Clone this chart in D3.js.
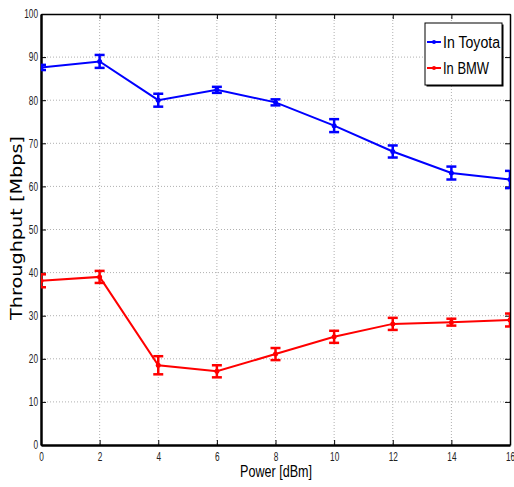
<!DOCTYPE html>
<html>
<head>
<meta charset="utf-8">
<script src="https://cdn.jsdelivr.net/npm/d3@7"></script>
<style>
body { margin: 0; background: #fff; }
.tick text { font-family: "Liberation Sans", Arial, sans-serif; font-size: 12px; fill: #222; }
</style>
</head>
<body>
<div id="chart"></div>
<script>
// data
const power = [0, 2, 4, 6, 8, 10, 12, 14, 16];
const toyota = [87.6, 89.0, 80.0, 82.4, 79.5, 74.1, 68.1, 63.1, 61.6];
const toyotaErr = [0.6, 1.5, 1.5, 0.7, 0.7, 1.5, 1.4, 1.5, 2.0];
const bmw = [38.1, 39.0, 18.5, 17.1, 21.1, 25.1, 28.1, 28.5, 29.0];
const bmwErr = [1.5, 1.4, 2.1, 1.4, 1.4, 1.4, 1.4, 0.8, 1.5];
const xTicks = [0, 2, 4, 6, 8, 10, 12, 14, 16];
const yTicks = [0, 10, 20, 30, 40, 50, 60, 70, 80, 90, 100];
const seriesNames = ["In Toyota", "In BMW"];
const seriesColors = ["#0000ff", "#ff0000"];

// svg container size
const width = 514;
const height = 487;

const margin = { top: 14, right: 4, bottom: 42, left: 41 };
const chartWidth = width - margin.left - margin.right;
const chartHeight = height - margin.top - margin.bottom;

const narrow = "'Liberation Sans', Arial, sans-serif";

const svg = d3.select("#chart").append("svg")
    .attr("width", width)
    .attr("height", height);

const chartGroup = svg.append("g")
    .attr("transform", `translate(${margin.left}, ${margin.top})`);

svg.append("defs").append("clipPath").attr("id", "plotClip")
    .append("rect").attr("width", chartWidth).attr("height", chartHeight);

const x = d3.scaleLinear().domain([0, 16]).range([0, chartWidth]);
const y = d3.scaleLinear().domain([0, 100]).range([chartHeight, 0]);

// grid
chartGroup.append("g")
    .selectAll("line")
    .data(xTicks.slice(1, -1))
    .join("line")
    .attr("x1", d => x(d)).attr("x2", d => x(d))
    .attr("y1", 0).attr("y2", chartHeight)
    .attr("stroke", "#b0b0b0")
    .attr("stroke-width", 1)
    .attr("stroke-dasharray", "1,2");
chartGroup.append("g")
    .selectAll("line")
    .data(yTicks.slice(1, -1))
    .join("line")
    .attr("y1", d => y(d)).attr("y2", d => y(d))
    .attr("x1", 0).attr("x2", chartWidth)
    .attr("stroke", "#b0b0b0")
    .attr("stroke-width", 1)
    .attr("stroke-dasharray", "1,2");

// axes (ticks point inward)
const bottomAxis = d3.axisBottom(x).tickValues(xTicks).tickSizeInner(-5).tickSizeOuter(0).tickPadding(7);
const leftAxis = d3.axisLeft(y).tickValues(yTicks).tickSizeInner(-5).tickSizeOuter(0).tickPadding(3);
const topAxis = d3.axisTop(x).tickValues(xTicks).tickSizeInner(-5).tickSizeOuter(0).tickFormat("");
const rightAxis = d3.axisRight(y).tickValues(yTicks).tickSizeInner(-5).tickSizeOuter(0).tickFormat("");

function styleAxis(g, w) {
    g.select(".domain").attr("stroke", "#000").attr("stroke-width", w);
    g.selectAll(".tick line").attr("stroke", "#000").attr("stroke-width", 1);
    // condensed look of the tick labels
    g.selectAll(".tick text")
        .attr("textLength", d => String(d).length * 4.6)
        .attr("lengthAdjust", "spacingAndGlyphs");
}

chartGroup.append("g").call(topAxis).call(g => styleAxis(g, 1.5));
chartGroup.append("g").attr("transform", `translate(${chartWidth},0)`).call(rightAxis).call(g => styleAxis(g, 1.5));
chartGroup.append("g").attr("transform", `translate(0,${chartHeight})`).call(bottomAxis).call(g => styleAxis(g, 2.5));
chartGroup.append("g").call(leftAxis).call(g => styleAxis(g, 2.5));

// series
const series = [
    { name: seriesNames[0], color: seriesColors[0], vals: toyota, err: toyotaErr, w: 57 },
    { name: seriesNames[1], color: seriesColors[1], vals: bmw, err: bmwErr, w: 46 }
];

const line = d3.line()
    .x(d => x(d.x))
    .y(d => y(d.y));

const capW = 5;
series.forEach(s => {
    const pts = power.map((p, i) => ({ x: p, y: s.vals[i], e: s.err[i] }));
    const g = chartGroup.append("g").attr("clip-path", "url(#plotClip)");
    g.append("path")
        .datum(pts)
        .attr("d", line)
        .attr("fill", "none")
        .attr("stroke", s.color)
        .attr("stroke-width", 2);
    const eb = g.selectAll(".eb").data(pts).join("g").attr("stroke", s.color).attr("stroke-width", 2.5);
    eb.append("line")
        .attr("x1", d => x(d.x)).attr("x2", d => x(d.x))
        .attr("y1", d => y(d.y + d.e)).attr("y2", d => y(d.y - d.e));
    eb.append("line")
        .attr("x1", d => x(d.x) - capW).attr("x2", d => x(d.x) + capW)
        .attr("y1", d => y(d.y + d.e)).attr("y2", d => y(d.y + d.e));
    eb.append("line")
        .attr("x1", d => x(d.x) - capW).attr("x2", d => x(d.x) + capW)
        .attr("y1", d => y(d.y - d.e)).attr("y2", d => y(d.y - d.e));
    g.selectAll("circle").data(pts).join("circle")
        .attr("cx", d => x(d.x)).attr("cy", d => y(d.y))
        .attr("r", 2.5)
        .attr("fill", s.color);
});

// legend
const legend = svg.append("g").attr("transform", "translate(425, 23)");
legend.append("rect")
    .attr("x", 1.5).attr("y", 1.5)
    .attr("width", 77).attr("height", 62)
    .attr("fill", "#000");
legend.append("rect")
    .attr("width", 77).attr("height", 62)
    .attr("fill", "#fff")
    .attr("stroke", "#000")
    .attr("stroke-width", 1);
series.forEach((s, i) => {
    const ly = 19 + i * 26;
    legend.append("line")
        .attr("x1", 2).attr("x2", 16)
        .attr("y1", ly).attr("y2", ly)
        .attr("stroke", s.color).attr("stroke-width", 2);
    legend.append("circle")
        .attr("cx", 9).attr("cy", ly).attr("r", 2)
        .attr("fill", s.color);
    legend.append("text")
        .attr("x", 18).attr("y", ly + 6)
        .attr("font-family", narrow)
        .attr("font-size", 16)
        .attr("textLength", s.w)
        .attr("lengthAdjust", "spacingAndGlyphs")
        .attr("fill", "#000")
        .text(s.name);
});

// labels
svg.append("text")
    .attr("transform", `translate(276, 477)`)
    .attr("text-anchor", "middle")
    .attr("font-family", narrow)
    .attr("font-size", 16.5)
    .attr("textLength", 72)
    .attr("lengthAdjust", "spacingAndGlyphs")
    .attr("fill", "#000")
    .text("Power [dBm]");
svg.append("text")
    .attr("transform", `translate(22, 228) rotate(-90)`)
    .attr("text-anchor", "middle")
    .attr("font-family", "'DejaVu Sans', sans-serif")
    .attr("font-size", 15)
    .attr("textLength", 184)
    .attr("lengthAdjust", "spacingAndGlyphs")
    .attr("fill", "#000")
    .text("Throughput [Mbps]");
</script>
</body>
</html>
